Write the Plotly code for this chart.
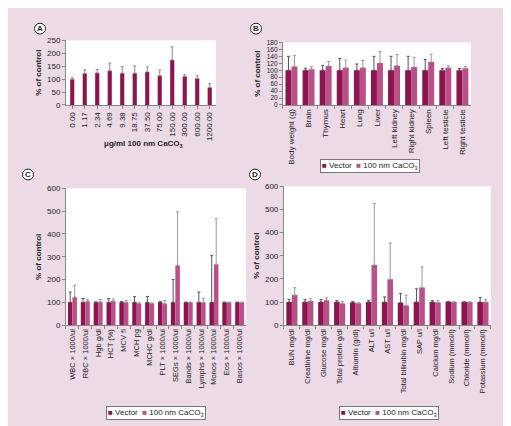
import plotly.graph_objects as go

# ---------------- data ----------------
dose_labels = ["0.00", "1.17", "2.34", "4.69", "9.38", "18.75", "37.50", "75.00",
               "150.00", "300.00", "600.00", "1200.00"]
dose_values = [100, 122, 124, 132, 123, 123, 128, 113, 174, 110, 102, 68]
dose_upper = [105, 136, 137, 162, 148, 151, 147, 135, 225, 117, 113, 82]

organ_labels = ["Body weight (g)", "Brain", "Thymus", "Heart", "Lung", "Liver",
                "Left kidney", "Right kidney", "Spleen", "Left testicle", "Right testicle"]
organ_vector = [100, 100, 100, 100, 100, 100, 100, 100, 100, 100, 100]
organ_vector_upper = [140, 106, 114, 134, 118, 140, 140, 140, 131, 105, 105]
organ_caco3 = [111, 103, 112, 107, 107, 121, 113, 109, 124, 107, 106]
organ_caco3_upper = [142, 110, 125, 129, 128, 154, 145, 137, 146, 113, 111]

blood_labels = ["WBC × 1000/ul", "RBC × 1000/ul", "Hgb g/dl", "HCT (%)", "MCV fl",
                "MCH pg", "MCHC g/dl", "PLT × 1000/ul", "SEGs × 1000/ul",
                "Bands × 1000/ul", "Lymphs × 1000/ul", "Monos × 1000/ul",
                "Eos × 1000/ul", "Basos × 1000/ul"]
blood_vector = [100, 100, 100, 100, 100, 100, 100, 100, 100, 100, 100, 100, 100, 100]
blood_vector_upper = [145, 117, 102, 117, 104, 125, 126, 104, 200, 101, 145, 305, 101, 101]
blood_caco3 = [123, 105, 102, 106, 100, 95, 96, 94, 262, 100, 100, 267, 100, 100]
blood_caco3_upper = [175, 112, 112, 115, 108, 100, 97, 108, 497, 101, 118, 467, 101, 101]

chem_labels = ["BUN mg/dl", "Creatinine mg/dl", "Glucose mg/dl", "Total protein g/dl",
               "Albumin (g/dl)", "ALT u/l", "AST u/l", "Total bilirubin mg/dl", "SAP u/l",
               "Calcium mg/dl", "Sodium (mmol/l)", "Chloride (mmol/l)", "Potassium (mmol/l)"]
chem_vector = [100, 100, 100, 100, 98, 100, 100, 97, 100, 100, 101, 100, 100]
chem_vector_upper = [112, 110, 110, 106, 102, 106, 122, 136, 157, 106, 102, 101, 119]
chem_caco3 = [130, 104, 108, 94, 95, 260, 198, 85, 163, 98, 100, 100, 100]
chem_caco3_upper = [162, 114, 118, 102, 97, 525, 355, 130, 252, 106, 101, 101, 110]

# ---------------- style ----------------
DARK = "#8c1550"
LIGHT = "#bb5088"
BG = "#ecdae6"
FONT = "Liberation Sans, Arial, sans-serif"


def err(vals, upper, color):
    return dict(type="data", symmetric=False,
                array=[u - v for u, v in zip(upper, vals)],
                arrayminus=[0] * len(vals),
                color=color, thickness=1, width=1.5)


fig = go.Figure()

# Panel A
fig.add_trace(go.Bar(x=dose_labels, y=dose_values, marker_color=DARK, marker_line_width=0,
                     error_y=err(dose_values, dose_upper, "#8a8a8a"), width=0.33,
                     xaxis="x", yaxis="y", showlegend=False, name="Dose"))

panels = [
    ("x2", "y2", organ_labels, organ_vector, organ_vector_upper, organ_caco3, organ_caco3_upper),
    ("x3", "y3", blood_labels, blood_vector, blood_vector_upper, blood_caco3, blood_caco3_upper),
    ("x4", "y4", chem_labels, chem_vector, chem_vector_upper, chem_caco3, chem_caco3_upper),
]
for xa, ya, cats, v, vu, c, cu in panels:
    fig.add_trace(go.Bar(x=cats, y=v, name="Vector", marker_color=DARK, marker_line_width=0,
                         error_y=err(v, vu, "#555555"), xaxis=xa, yaxis=ya,
                         showlegend=False, offsetgroup="v"))
    fig.add_trace(go.Bar(x=cats, y=c, name="100 nm CaCO3", marker_color=LIGHT,
                         marker_line_width=0,
                         error_y=err(c, cu, "#999999"), xaxis=xa, yaxis=ya,
                         showlegend=False, offsetgroup="c"))

tickfont = dict(size=8, color="#222", family=FONT)
axline = dict(showline=True, linecolor="#888", linewidth=1, ticks="outside",
              ticklen=3, tickcolor="#888", showgrid=False, zeroline=False)
ytitle = dict(text="<b>% of control</b>", font=dict(size=8), standoff=4)

fig.update_layout(
    width=511, height=426,
    margin=dict(l=0, r=0, t=0, b=0),
    paper_bgcolor=BG, plot_bgcolor="white",
    font=dict(family=FONT, size=8, color="#222"),
    barmode="group", bargap=0.3, bargroupgap=0,
    showlegend=False,
    xaxis=dict(domain=[0.1135, 0.407], anchor="y", tickangle=-90, tickfont=tickfont,
               **axline),
    yaxis=dict(domain=[0.777, 0.932], anchor="x", range=[0, 250], dtick=50,
               tickfont=tickfont, title=ytitle, **axline),
    xaxis2=dict(domain=[0.538, 0.906], anchor="y2", tickangle=-90, tickfont=tickfont,
                tickson="boundaries", **axline),
    yaxis2=dict(domain=[0.777, 0.927], anchor="x2", range=[0, 180], dtick=20,
                tickfont=dict(size=6.5, color="#222", family=FONT), title=ytitle, **axline),
    xaxis3=dict(domain=[0.1135, 0.466], anchor="y3", tickangle=-90,
                tickfont=dict(size=7.5, color="#222", family=FONT),
                tickson="boundaries", **axline),
    yaxis3=dict(domain=[0.249, 0.577], anchor="x3", range=[0, 600], dtick=100,
                tickfont=tickfont, title=ytitle, **axline),
    xaxis4=dict(domain=[0.540, 0.945], anchor="y4", tickangle=-90,
                tickfont=dict(size=7.5, color="#222", family=FONT),
                tickson="boundaries", **axline),
    yaxis4=dict(domain=[0.249, 0.582], anchor="x4", range=[0, 600], dtick=100,
                tickfont=tickfont, title=ytitle, **axline),
)

# Panel letters
for letter, px, py in [("A", 32, 17), ("B", 248, 17), ("C", 20, 166), ("D", 247, 166)]:
    fig.add_shape(type="circle", xref="paper", yref="paper",
                  x0=(px - 5.5) / 511, x1=(px + 5.5) / 511,
                  y0=1 - (py + 5.5) / 426, y1=1 - (py - 5.5) / 426,
                  line=dict(color="#222", width=1), fillcolor="white")
    fig.add_annotation(text="<b>%s</b>" % letter, xref="paper", yref="paper",
                       x=px / 511, y=1 - py / 426, showarrow=False,
                       font=dict(size=8, color="#222"), xanchor="center", yanchor="middle")

# Panel A x-axis title
fig.add_annotation(text="<b>μg/ml 100 nm CaCO<sub>3</sub></b>", xref="paper", yref="paper",
                   x=135 / 511, y=1 - 135 / 426, showarrow=False,
                   font=dict(size=8, color="#222"), xanchor="center", yanchor="middle")

# Legends (compact, like the original)
legend_text = ("<span style='color:%s'>■</span> Vector  <span style='color:%s'>■</span> "
               "100 nm CaCO<sub>3</sub>") % (DARK, LIGHT)
for cx, cy in [(362, 157), (148, 410), (381, 410)]:
    fig.add_annotation(text=legend_text, xref="paper", yref="paper",
                       x=cx / 511, y=1 - cy / 426, showarrow=False,
                       font=dict(size=8, color="#222"), xanchor="center", yanchor="middle",
                       bgcolor="white", bordercolor="#777", borderwidth=1, borderpad=1)

fig.write_html("out.html")
